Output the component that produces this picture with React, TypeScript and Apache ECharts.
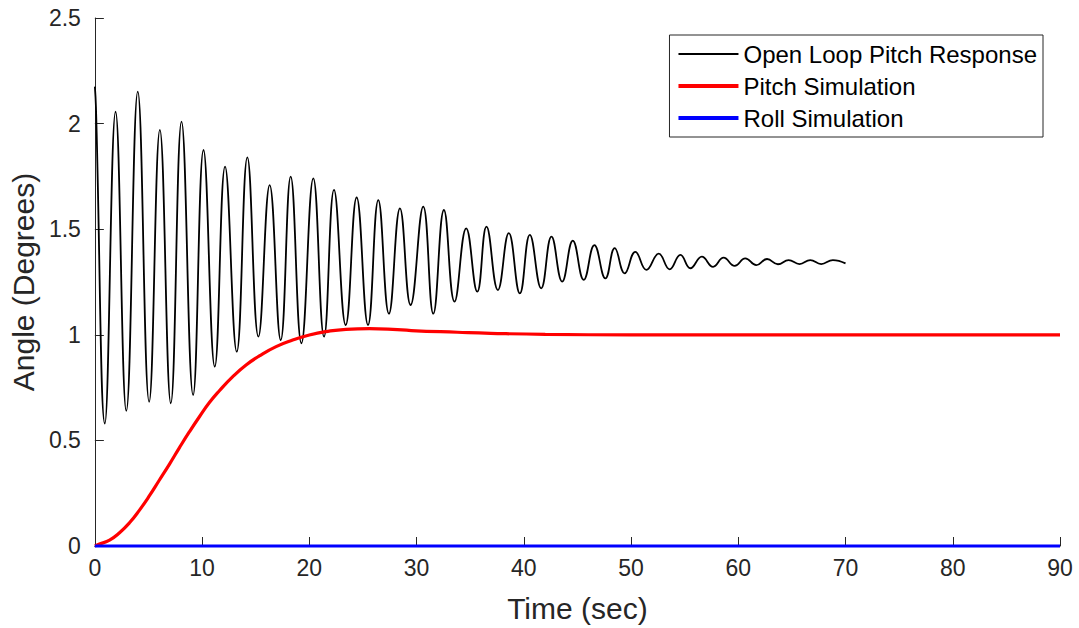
import React, { useEffect, useRef } from "react";
import * as echarts from "echarts";

const openLoopTime = [0, 0.1, 0.93, 1.93, 2.93, 4.0, 5.06, 6.06, 7.08, 8.08, 9.16, 10.13, 11.18, 12.14, 13.23, 14.22, 15.25, 16.3, 17.33, 18.26, 19.26, 20.37, 21.37, 22.3, 23.39, 24.41, 25.47, 26.43, 27.42, 28.45, 29.44, 30.62, 31.56, 32.55, 33.54, 34.63, 35.66, 36.52, 37.58, 38.6, 39.63, 40.56, 41.62, 42.58, 43.58, 44.57, 45.59, 46.58, 47.61, 48.48, 49.41, 50.4, 51.43, 52.58, 53.6, 54.6, 55.53, 56.6, 57.65, 58.63, 59.66, 60.65, 61.68, 62.68, 63.7, 64.69, 65.71, 66.71, 67.73, 68.82, 70];
const openLoopAngle = [2.175, 2.08, 0.58, 2.056, 0.64, 2.151, 0.683, 1.97, 0.676, 2.009, 0.715, 1.875, 0.849, 1.796, 0.92, 1.84, 0.991, 1.709, 0.975, 1.749, 0.96, 1.741, 0.991, 1.686, 1.046, 1.651, 1.046, 1.638, 1.1, 1.599, 1.141, 1.607, 1.1, 1.591, 1.157, 1.504, 1.204, 1.512, 1.212, 1.481, 1.196, 1.473, 1.22, 1.465, 1.252, 1.446, 1.26, 1.425, 1.267, 1.41, 1.291, 1.393, 1.307, 1.384, 1.31, 1.378, 1.315, 1.37, 1.322, 1.365, 1.326, 1.362, 1.33, 1.359, 1.334, 1.354, 1.335, 1.354, 1.335, 1.354, 1.338];

const pitchTime = [0, 0.43, 1.37, 2.3, 3.23, 4.16, 5.09, 6.02, 6.96, 7.89, 8.82, 9.75, 10.68, 11.61, 12.86, 14.1, 15.34, 16.9, 18.45, 20.0, 21.55, 23.42, 25.59, 27.77, 29.5, 33.8, 36.9, 42, 50, 90];
const pitchAngle = [0, 0.009, 0.028, 0.063, 0.11, 0.17, 0.238, 0.3125, 0.388, 0.466, 0.541, 0.612, 0.679, 0.735, 0.802, 0.857, 0.9, 0.944, 0.975, 0.999, 1.015, 1.026, 1.029, 1.026, 1.02, 1.012, 1.007, 1.002, 1.0, 1.0];

const rollTime = [0, 90];
const rollAngle = [0, 0];

const seriesNames = ["Open Loop Pitch Response", "Pitch Simulation", "Roll Simulation"];
const seriesColors = ["#000000", "#ff0000", "#0000ff"];
const legendLineWidths = [2, 4, 4];

const zip = (xs: number[], ys: number[]) => xs.map((x, i) => [x, ys[i]]);

export default function App() {
  const ref = useRef<HTMLDivElement>(null);
  useEffect(() => {
    if (!ref.current) return;
    const chart = echarts.init(ref.current, null, { renderer: "svg" });
    const font = "'Liberation Sans', Arial, Helvetica, sans-serif";
    const axisColor = "#262626";
    chart.setOption({
      animation: false,
      backgroundColor: "#ffffff",
      textStyle: { fontFamily: font },
      grid: { left: 94, right: 19, top: 18, bottom: 82, containLabel: false },
      legend: {
        data: seriesNames.map((n, i) => ({
          name: n,
          lineStyle: { width: legendLineWidths[i], color: seriesColors[i] },
        })),
        orient: "vertical",
        right: 36,
        top: 35,
        itemWidth: 60,
        itemHeight: 14,
        itemGap: 8,
        padding: [7, 6, 7, 7],
        backgroundColor: "#ffffff",
        borderColor: axisColor,
        borderWidth: 1,
        itemStyle: { opacity: 0 },
        textStyle: { fontFamily: font, fontSize: 24, color: "#000000" },
      },
      xAxis: {
        type: "value",
        min: 0,
        max: 90,
        interval: 10,
        name: "Time (sec)",
        nameLocation: "middle",
        nameGap: 47,
        nameTextStyle: { fontFamily: font, fontSize: 30, color: axisColor },
        axisLine: { show: true, lineStyle: { color: axisColor, width: 1 } },
        axisTick: { show: true, inside: true, length: 9, lineStyle: { color: axisColor } },
        axisLabel: { color: axisColor, fontSize: 23, margin: 10, fontFamily: font },
        splitLine: { show: false },
      },
      yAxis: {
        type: "value",
        min: 0,
        max: 2.5,
        interval: 0.5,
        name: "Angle (Degrees)",
        nameLocation: "middle",
        nameGap: 56,
        nameTextStyle: { fontFamily: font, fontSize: 30, color: axisColor },
        axisLine: { show: true, lineStyle: { color: axisColor, width: 1 } },
        axisTick: { show: true, inside: true, length: 9, lineStyle: { color: axisColor } },
        axisLabel: { color: axisColor, fontSize: 23, margin: 14, fontFamily: font },
        splitLine: { show: false },
      },
      series: [
        {
          name: seriesNames[0],
          type: "line",
          data: zip(openLoopTime, openLoopAngle),
          symbol: "none",
          smooth: 0.45,
          lineStyle: { color: seriesColors[0], width: 1.8 },
          itemStyle: { color: seriesColors[0] },
          z: 2,
        },
        {
          name: seriesNames[1],
          type: "line",
          data: zip(pitchTime, pitchAngle),
          symbol: "none",
          smooth: true,
          clip: false,
          lineStyle: { color: seriesColors[1], width: 3.2 },
          itemStyle: { color: seriesColors[1] },
          z: 3,
        },
        {
          name: seriesNames[2],
          type: "line",
          data: zip(rollTime, rollAngle),
          symbol: "none",
          clip: false,
          lineStyle: { color: seriesColors[2], width: 3.2 },
          itemStyle: { color: seriesColors[2] },
          z: 4,
        },
      ],
    });
    return () => chart.dispose();
  }, []);
  return (
    <div
      ref={ref}
      style={{ position: "fixed", left: 0, top: 0, width: 1079, height: 628, background: "#fff" }}
    />
  );
}
